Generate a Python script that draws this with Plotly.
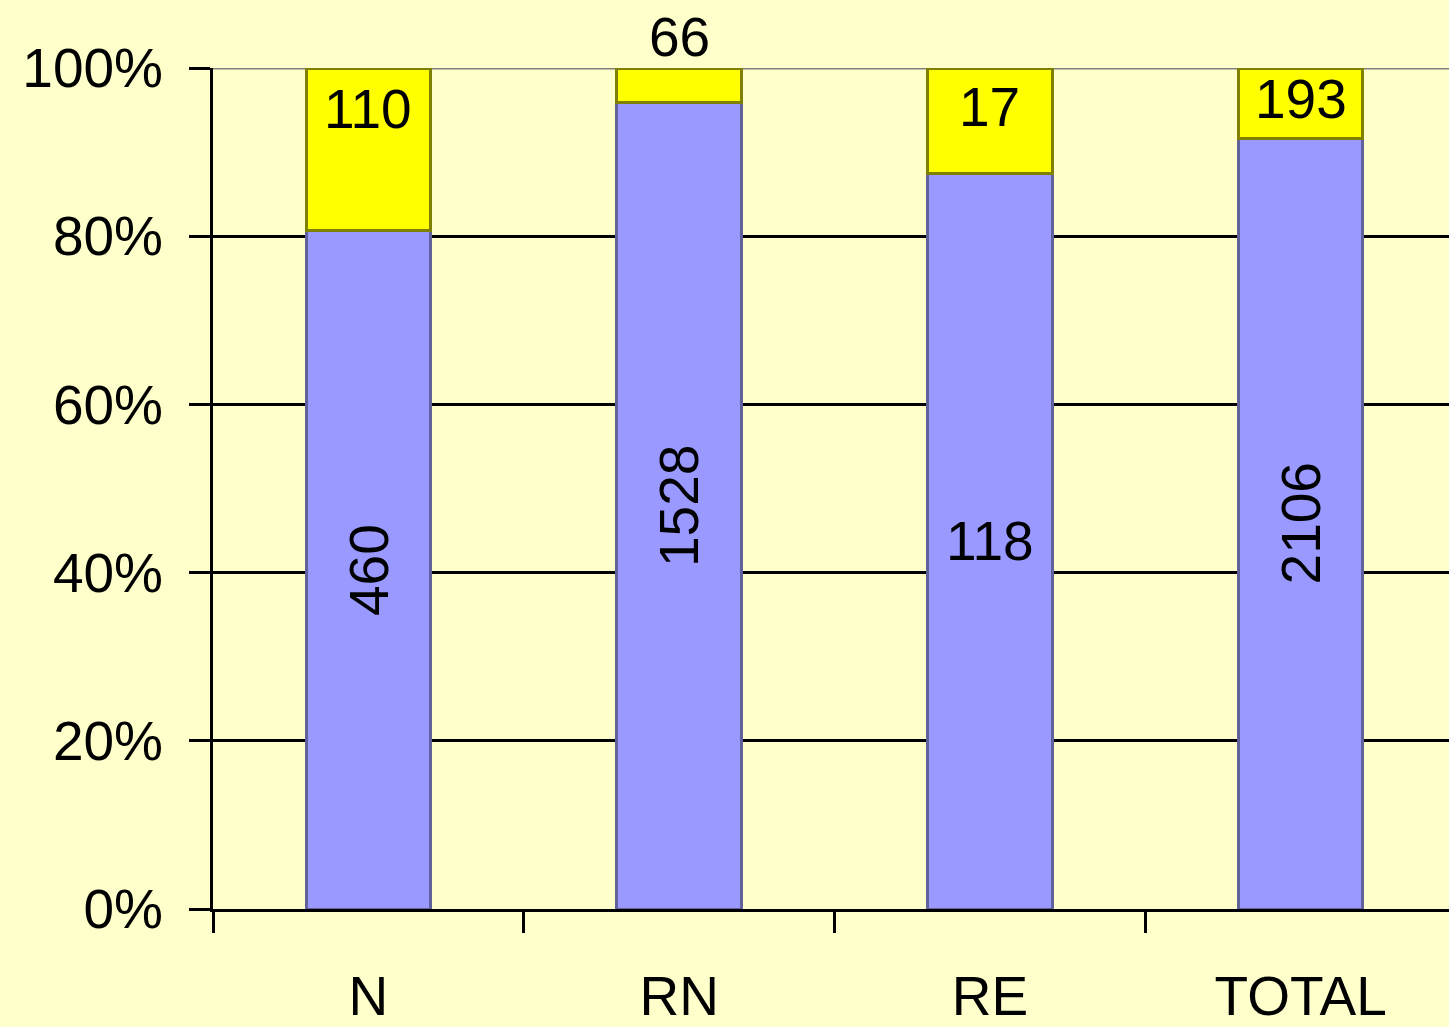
import plotly.graph_objects as go

categories = ["N", "RN", "RE", "TOTAL"]
blue_values = [460, 1528, 118, 2106]
yellow_values = [110, 66, 17, 193]
y_tick_vals = [0, 0.2, 0.4, 0.6, 0.8, 1.0]
y_tick_text = ["0%", "20%", "40%", "60%", "80%", "100%"]

# label styling (not data)
blue_label_angles = [-90, -90, 0, -90]
yellow_label_anchor = ["top", "bottom", "top", "top"]
yellow_label_shift = [-8, -2, -6, 2]

FONT = "Liberation Sans, Arial, sans-serif"
FS = 55

totals = [b + y for b, y in zip(blue_values, yellow_values)]
blue_frac = [b / t for b, t in zip(blue_values, totals)]
yellow_frac = [y / t for y, t in zip(yellow_values, totals)]

fig = go.Figure()
fig.add_trace(go.Bar(x=categories, y=blue_frac, width=0.4,
                     marker=dict(color="#9999FF", line=dict(color="#62629A", width=3)),
                     hoverinfo="skip"))
fig.add_trace(go.Bar(x=categories, y=yellow_frac, width=0.4,
                     marker=dict(color="#FFFF00", line=dict(color="#808000", width=3)),
                     hoverinfo="skip"))

annotations = []
for i, c in enumerate(categories):
    annotations.append(dict(x=c, y=blue_frac[i] / 2, text=str(blue_values[i]),
                            textangle=blue_label_angles[i], showarrow=False,
                            font=dict(family=FONT, size=FS, color="black"),
                            xanchor="center", yanchor="middle"))
    annotations.append(dict(x=c, y=blue_frac[i] + yellow_frac[i], text=str(yellow_values[i]),
                            showarrow=False, yanchor=yellow_label_anchor[i],
                            yshift=yellow_label_shift[i],
                            font=dict(family=FONT, size=FS, color="black"),
                            xanchor="center"))

vis_frac = 1236 / 1243
fig.update_layout(
    width=1449, height=1027,
    margin=dict(l=213, r=0, t=68, b=116),
    paper_bgcolor="#FFFFCC", plot_bgcolor="#FFFFCC",
    barmode="stack", showlegend=False,
    annotations=annotations,
    font=dict(family=FONT, size=FS, color="black"),
    shapes=[dict(type="line", xref="paper", yref="y", x0=0, x1=1, y0=1, y1=1,
                 line=dict(color="#808080", width=3), layer="below")],
)
fig.update_xaxes(
    range=[-0.5, -0.5 + 4 * vis_frac],
    showline=True, linecolor="black", linewidth=3,
    ticks="outside", tickson="boundaries", ticklen=21, tickwidth=3, tickcolor="black",
    showgrid=False, ticklabelstandoff=37,
    tickfont=dict(family=FONT, size=FS, color="black"),
)
fig.update_yaxes(
    range=[0, 1], tickvals=y_tick_vals, ticktext=y_tick_text,
    showline=True, linecolor="black", linewidth=3,
    ticks="outside", ticklen=21, tickwidth=3, tickcolor="black",
    showgrid=True, gridcolor="black", gridwidth=3, zeroline=False,
    ticklabelstandoff=15,
    tickfont=dict(family=FONT, size=FS, color="black"),
)

fig.write_html("out.html",
               config={"displayModeBar": False},
               post_script="document.body.style.margin='0';document.body.style.padding='0';"
                           "document.body.style.overflow='hidden';"
                           "document.body.style.background='#FFFFCC';")
